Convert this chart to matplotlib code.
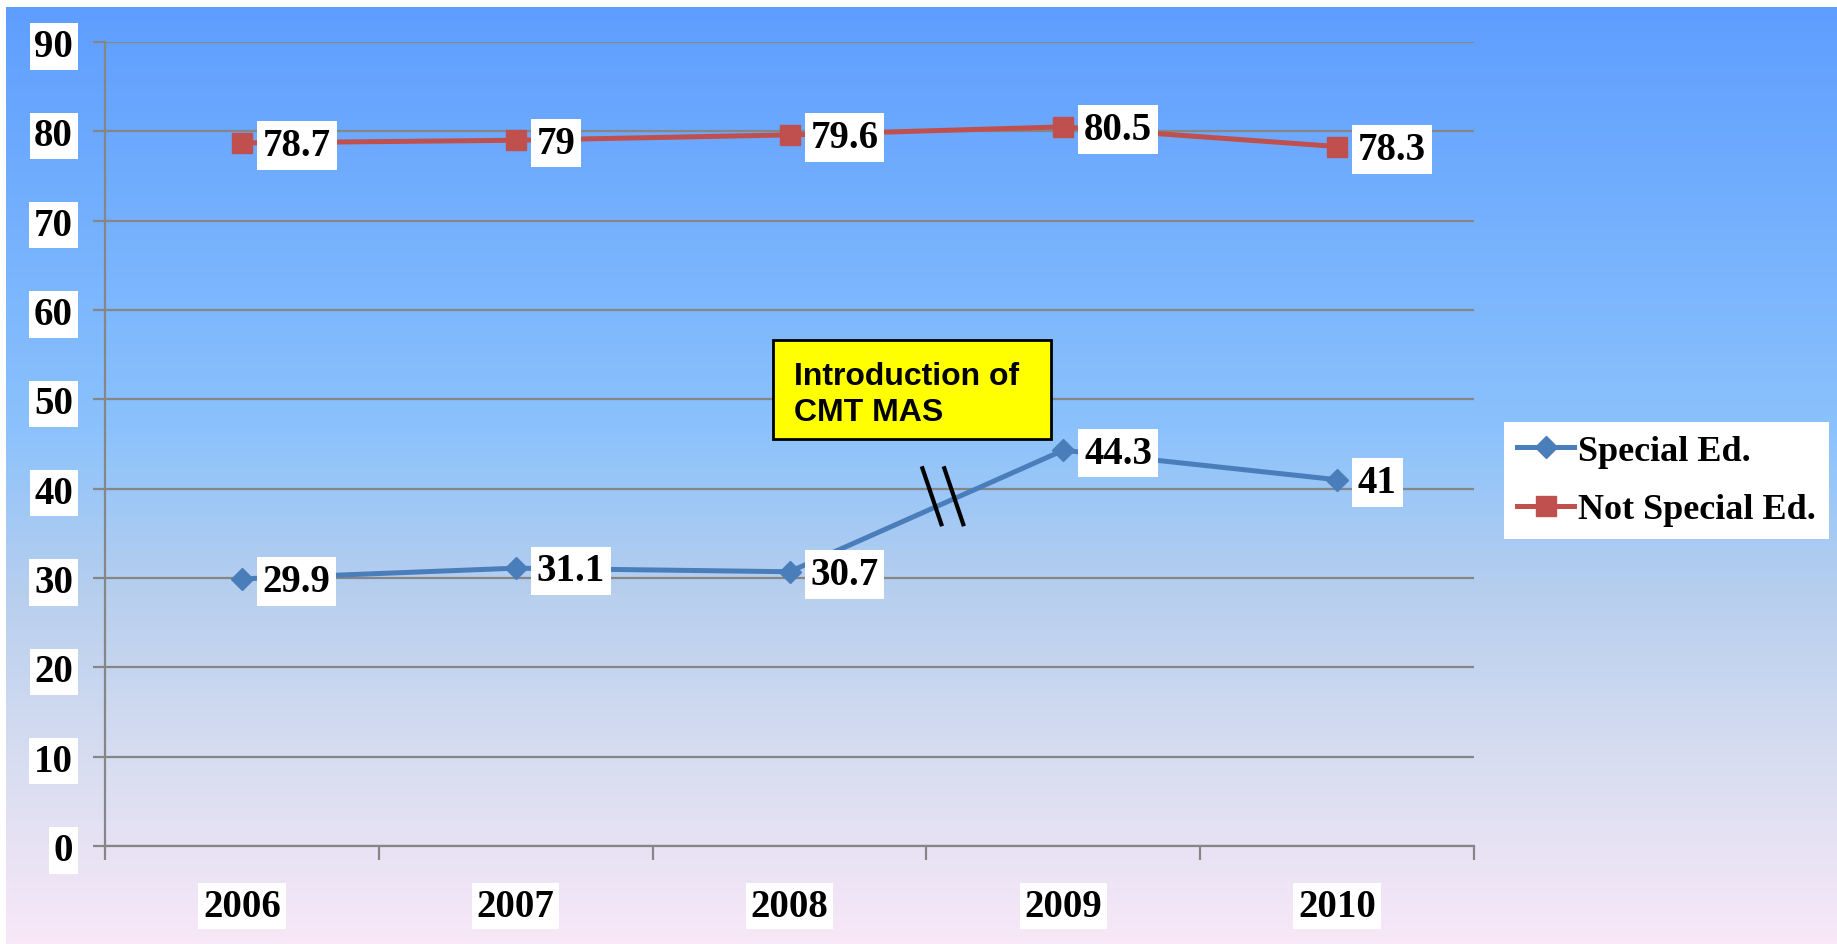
import matplotlib
matplotlib.use("Agg")
import matplotlib.pyplot as plt
import numpy as np
from matplotlib.colors import LinearSegmentedColormap
from matplotlib.patches import Rectangle

# data
years = ['2006', '2007', '2008', '2009', '2010']
special_ed = [29.9, 31.1, 30.7, 44.3, 41]
not_special_ed = [78.7, 79, 79.6, 80.5, 78.3]
series_names = ['Special Ed.', 'Not Special Ed.']
note_text = 'Introduction of\nCMT MAS'

W, H = 1837, 945
fig = plt.figure(figsize=(W / 100, H / 100), dpi=100, facecolor='white')

# gradient background (blue at top fading to a pale pink)
bg = fig.add_axes([6 / W, 0, 1 - 6 / W, (H - 8) / H], zorder=-5)
cmap = LinearSegmentedColormap.from_list(
    'bg', [(0.0, '#5E9EFF'), (0.45, '#8BC2FC'), (0.63, '#B8CFEE'),
           (0.82, '#DADEF1'), (1.0, '#F8E8F8')])
bg.imshow(np.linspace(0, 1, 256).reshape(-1, 1), cmap=cmap, aspect='auto',
          extent=[0, 1, 0, 1], origin='upper')
bg.axis('off')

ax = fig.add_axes([105 / W, (H - 847) / H, (1474 - 105) / W, (847 - 43) / H])
ax.patch.set_alpha(0)

x = np.arange(len(years))
blue = '#4A7EBB'
red = '#C0504D'
serif = ['Liberation Serif', 'DejaVu Serif']

ax.plot(x, special_ed, color=blue, lw=3.6, marker='D', ms=11,
        label=series_names[0], zorder=4)
ax.plot(x, not_special_ed, color=red, lw=3.6, marker='s', ms=14,
        label=series_names[1], zorder=4)

# data labels to the right of each point
for xs, ys in [(x, special_ed), (x, not_special_ed)]:
    for xi, yi in zip(xs, ys):
        ax.annotate(f'{yi:g}', (xi, yi), xytext=(15, -2), textcoords='offset points',
                    ha='left', va='center', fontsize=28, fontweight='bold',
                    family=serif, zorder=6,
                    bbox=dict(boxstyle='square,pad=0.15', fc='white', ec='none'))

ax.set_xlim(-0.5, len(years) - 0.5)
ax.set_ylim(0, 90)
ax.set_yticks(np.arange(0, 91, 10))
ax.yaxis.grid(True, color='#868686', lw=1.6)
ax.set_axisbelow(True)

ax.set_xticks(np.arange(-0.5, len(years), 1))
ax.set_xticklabels([])
ax.set_xticks(x, minor=True)
ax.set_xticklabels(years, minor=True)
ax.tick_params(axis='x', which='major', length=10, width=1.6, color='#868686')
ax.tick_params(axis='x', which='minor', length=0, pad=30)
ax.tick_params(axis='y', length=9, width=1.6, color='#868686', pad=14)

for lab in ax.get_yticklabels() + ax.get_xticklabels(minor=True):
    lab.set_fontsize(28)
    lab.set_fontweight('bold')
    lab.set_family(serif)
    lab.set_bbox(dict(boxstyle='square,pad=0.12', fc='white', ec='none'))

for side in ['top', 'right']:
    ax.spines[side].set_visible(False)
for side in ['left', 'bottom']:
    ax.spines[side].set_color('#868686')
    ax.spines[side].set_linewidth(1.6)

# yellow call-out box
ax.add_patch(Rectangle((1.94, 45.6), 1.015, 11.0, fc='#FFFF00', ec='black',
                       lw=2, zorder=5))
ax.text(2.015, 50.6, note_text, ha='left', va='center', fontsize=23,
        fontweight='bold', family=['Liberation Sans', 'DejaVu Sans'],
        linespacing=1.3, zorder=6)

# break marks on the 2008-2009 segment
mx = (x[2] + x[3]) / 2
my = (special_ed[2] + special_ed[3]) / 2
for dx in (0.02, 0.10):
    ax.plot([mx + dx - 0.037, mx + dx + 0.037], [my + 5.0, my - 1.7],
            color='black', lw=3, zorder=5, solid_capstyle='butt')

leg = fig.legend(loc='upper left', bbox_to_anchor=(1504 / W, 1 - 423 / H),
                 prop=dict(family=serif, size=26, weight='bold'),
                 frameon=True, fancybox=False, framealpha=1, edgecolor='none',
                 handlelength=1.6, handletextpad=0.1, labelspacing=0.7,
                 borderpad=0.35, borderaxespad=0)

fig.savefig('out.png', dpi=100, facecolor='white')
